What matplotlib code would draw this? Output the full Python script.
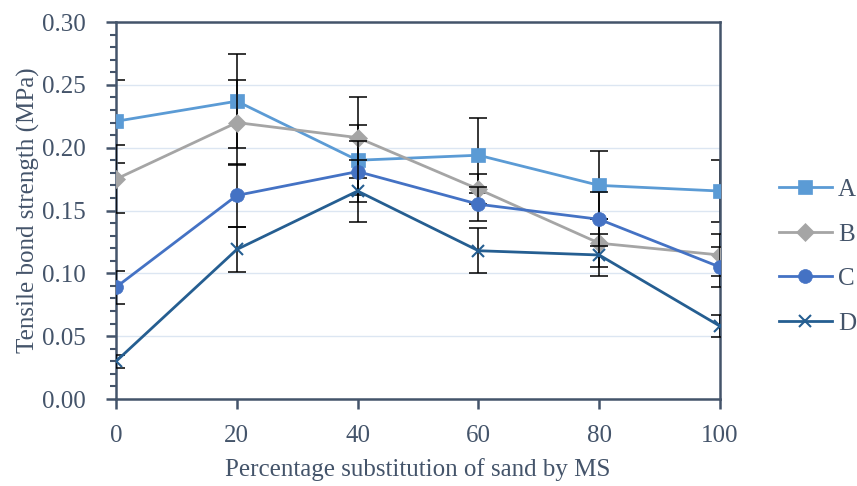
import matplotlib.pyplot as plt
import numpy as np
from matplotlib.ticker import MultipleLocator

plt.rcParams['font.family'] = ['Liberation Serif', 'DejaVu Serif']

x = [0, 20, 40, 60, 80, 100]
labels = ['A', 'B', 'C', 'D']
a_vals = [0.221, 0.237, 0.190, 0.194, 0.170, 0.1655]
b_vals = [0.175, 0.220, 0.208, 0.167, 0.124, 0.1146]
c_vals = [0.089, 0.162, 0.181, 0.155, 0.143, 0.105]
d_vals = [0.030, 0.119, 0.1655, 0.118, 0.1146, 0.058]
a_err = [0.033, 0.0375, 0.028, 0.030, 0.027, 0.025]
b_err = [0.027, 0.034, 0.032, 0.012, 0.019, 0.017]
c_err = [0.013, 0.025, 0.024, 0.0135, 0.0215, 0.016]
d_err = [0.005, 0.018, 0.025, 0.018, 0.017, 0.0088]

colors = ['#5B9BD5', '#A5A5A5', '#4472C4', '#255E91']
markers = ['s', 'D', 'o', 'x']
msizes = [10, 9, 10, 9]
txt = '#44546A'
fs = 18

fig = plt.figure(figsize=(8.57, 4.86), dpi=100)
ax = fig.add_axes([0.1354, 0.179, 0.8401 - 0.1354, 0.9547 - 0.179])

series = [(a_vals, a_err), (b_vals, b_err), (c_vals, c_err), (d_vals, d_err)]
for i, (vals, err) in enumerate(series):
    ax.errorbar(x, vals, yerr=err, fmt='none', ecolor='black', elinewidth=1.1,
                capsize=6.5, capthick=1.1, zorder=2 + i * 2)
    ax.plot(x, vals, color=colors[i], marker=markers[i], markersize=msizes[i],
            linewidth=2, markeredgewidth=1.5 if markers[i] == 'x' else 0.5,
            markeredgecolor=colors[i], label=labels[i], zorder=3 + i * 2)

ax.set_xlim(0, 100)
ax.set_ylim(0, 0.30)
ax.set_xticks(x)
ax.set_yticks(np.arange(0, 0.301, 0.05))
ax.set_yticklabels(['%.2f' % v for v in np.arange(0, 0.301, 0.05)])
ax.yaxis.set_minor_locator(MultipleLocator(0.01))
ax.grid(axis='y', color='#DCE6F2', linewidth=1)
ax.set_axisbelow(True)

for s in ax.spines.values():
    s.set_color(txt)
    s.set_linewidth(1.8)
ax.tick_params(axis='both', which='major', direction='out', color=txt, width=1.8,
               labelsize=fs, labelcolor=txt)
ax.tick_params(axis='y', which='major', length=7, pad=15)
ax.tick_params(axis='y', which='minor', length=4, width=1.5, color=txt)
ax.tick_params(axis='x', which='major', length=7, pad=12)

ax.set_xlabel('Percentage substitution of sand by MS', fontsize=fs, color=txt, labelpad=8)
ax.set_ylabel('Tensile bond strength (MPa)', fontsize=fs, color=txt, labelpad=1)

leg = ax.legend(loc='center left', bbox_to_anchor=(779 / 857, 0.472),
                bbox_transform=fig.transFigure, frameon=False, borderpad=0,
                borderaxespad=0, fontsize=fs, labelspacing=0.88,
                handlelength=2.1, handletextpad=0.25, labelcolor=txt)

fig.savefig('out.png', dpi=100)
